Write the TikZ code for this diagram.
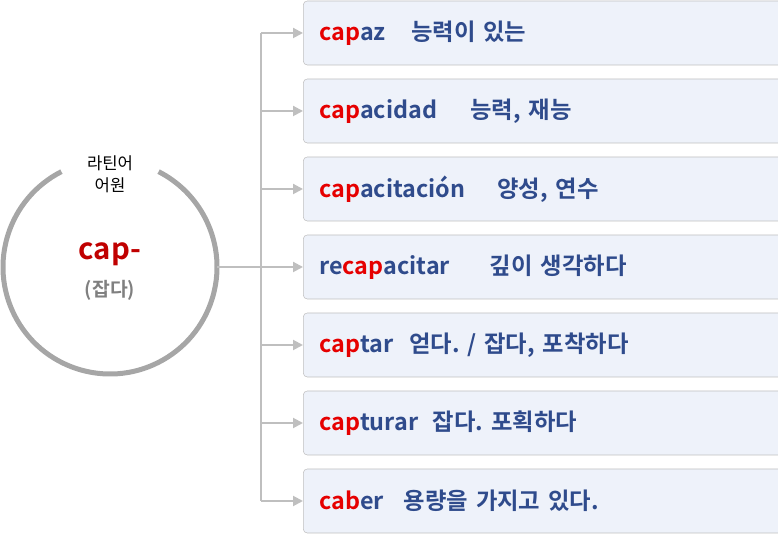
\documentclass[tikz,border=0pt]{standalone}
\usepackage{fontspec}
\setmainfont{Noto Sans CJK KR}[BoldFont={Noto Sans CJK KR Bold}]
\usetikzlibrary{arrows.meta}
\definecolor{boxfill}{HTML}{EEF2FA}
\definecolor{boxline}{HTML}{BFBFBF}
\definecolor{wordblue}{HTML}{2F4B8C}
\definecolor{capred}{HTML}{E60000}
\definecolor{rootred}{HTML}{C00000}
\def\rt#1{\textcolor{capred}{#1}}
\frenchspacing
\tikzset{
  wordbox/.style={draw=boxline, fill=boxfill, rounded corners=3pt, anchor=west,
    minimum width=355.5pt, minimum height=48pt, text width=341pt, inner xsep=12pt,
    align=left, font=\fontsize{17.5}{20}\selectfont\bfseries, text=wordblue},
  link/.style={draw=boxline, line width=1.5pt},
  arr/.style={link, -{Triangle[length=7.5pt,width=7.5pt]}}
}

\begin{document}
\begin{tikzpicture}[x=0.75pt, y=0.75pt]
			%%%%% START %%%%%
			
			\useasboundingbox (0, 0) rectangle (778, 534);
			
			\node[minimum size=160pt] (root) at (110, 267) {};
			\draw[line width=3.75pt, color=black!35] ([shift={(117:80.25pt)}]root.center) arc[start angle=117, end angle=423, radius=80.25pt];
			\node[align=center, font=\fontsize{12.5}{16.5}\selectfont] (origin) at (110, 360) {라틴어\\어원};
			\node[font=\fontsize{22}{25}\selectfont\bfseries, text=rootred] (stem) at (110, 280) {cap-};
			\node[font=\fontsize{14.5}{17}\selectfont\bfseries, text=black!50] (mean) at (110, 244) {(잡다)};
			
			\node[wordbox] (w1) at (303, 501) {\rt{cap}az\hspace{19pt}능력이 있는};
			\node[wordbox] (w2) at (303, 423) {\rt{cap}acidad\hspace{25pt}능력, 재능};
			\node[wordbox] (w3) at (303, 345) {\rt{cap}acitación\hspace{24pt}양성, 연수};
			\node[wordbox] (w4) at (303, 267) {re\rt{cap}acitar\hspace{30pt}깊이 생각하다};
			\node[wordbox] (w5) at (303, 189) {\rt{cap}tar\hspace{12pt}얻다. / 잡다, 포착하다};
			\node[wordbox] (w6) at (303, 111) {\rt{cap}turar\hspace{11pt}잡다. 포획하다};
			\node[wordbox] (w7) at (303, 33) {\rt{cab}er\hspace{15pt}용량을 가지고 있다.};
			
			\coordinate (hub) at (261, 267);
			\draw[link] (root.east) -- (hub);
			\draw[link] (hub |- w1.west) -- (hub |- w7.west);
			\foreach \w in {w1, w2, w3, w4, w5, w6, w7}
				\draw[arr] (hub |- \w.west) -- (\w.west);
			
			%%%%% END %%%%%
		\end{tikzpicture}
\end{document}
